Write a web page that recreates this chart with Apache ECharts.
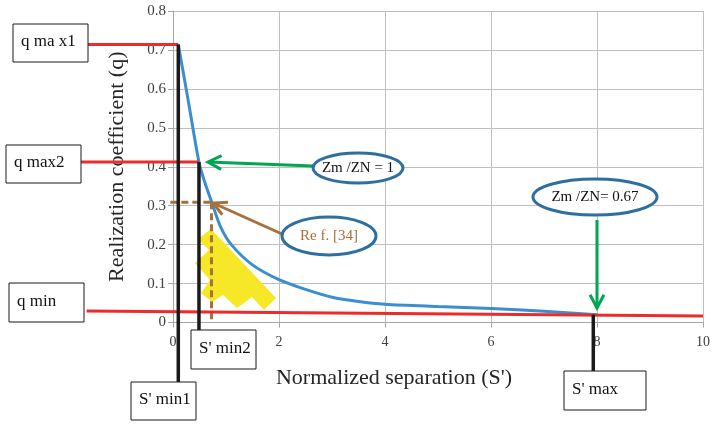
<!DOCTYPE html>
<html>
<head>
<meta charset="utf-8">
<script src="https://cdn.jsdelivr.net/npm/echarts@6/dist/echarts.min.js"></script>
<style>
  html, body { margin: 0; padding: 0; background: #fff; }
  #chart { width: 713px; height: 424px; }
</style>
</head>
<body>
<div id="chart"></div>
<script>
  // curve
  const curveS = [0.1, 0.3, 0.49, 0.6, 0.73, 0.9, 1.1, 1.5, 2, 2.5, 3, 3.5, 4, 5, 6, 7, 8];
  const curveQ = [0.714, 0.56, 0.412, 0.36, 0.309, 0.245, 0.2, 0.148, 0.11, 0.085, 0.065, 0.054, 0.047, 0.041, 0.036, 0.029, 0.02];

  // annotation values
  const qMax1 = 0.714, qMax2 = 0.412;
  const sMin1 = 0.1, sMin2 = 0.49, sMax = 7.93, qAtMax = 0.02;
  const qMinS = [-1.63, 10];
  const qMinQ = [0.0296, 0.0167];
  const sRef = 0.726, qRef = 0.309;

  const font = 'Liberation Serif, "Times New Roman", serif';
  const chart = echarts.init(document.getElementById('chart'));

  chart.setOption({
    animation: false,
    grid: { left: 173, right: 7, top: 11, bottom: 101.5 },
    xAxis: {
      type: 'value', min: 0, max: 10, interval: 2,
      name: "Normalized separation (S')",
      nameLocation: 'middle', nameGap: 45,
      nameTextStyle: { fontFamily: font, fontSize: 22, color: '#262626', padding: [0, 88, 0, 0] },
      axisLine: { show: true, lineStyle: { color: '#a6a6a6' } },
      axisTick: { show: true, length: 5, lineStyle: { color: '#a6a6a6' } },
      axisLabel: { fontFamily: font, fontSize: 14, color: '#404040', margin: 13 },
      splitLine: { lineStyle: { color: '#bfbfbf' } }
    },
    yAxis: {
      type: 'value', min: 0, max: 0.8, interval: 0.1,
      name: 'Realization coefficient (q)',
      nameLocation: 'middle', nameGap: 45,
      nameTextStyle: { fontFamily: font, fontSize: 22, color: '#262626' },
      axisLine: { show: true, lineStyle: { color: '#a6a6a6' } },
      axisTick: { show: true, length: 5, lineStyle: { color: '#a6a6a6' } },
      axisLabel: {
        fontFamily: font, fontSize: 15, color: '#404040', margin: 7,
        formatter: v => v === 0 ? '0' : v.toFixed(1)
      },
      splitLine: { lineStyle: { color: '#bfbfbf' } }
    },
    series: [{
      type: 'line',
      data: curveS.map((s, i) => [s, curveQ[i]]),
      smooth: 0.3,
      showSymbol: false,
      lineStyle: { color: '#3b8ed0', width: 3 },
      z: 3
    }]
  });

  const px = (s, q) => chart.convertToPixel({ gridIndex: 0 }, [s, q]);

  function seg(a, b, color, width, z, dash) {
    return {
      type: 'line', z: z,
      shape: { x1: a[0], y1: a[1], x2: b[0], y2: b[1] },
      style: { stroke: color, lineWidth: width, lineDash: dash || null }
    };
  }

  function arrow(from, to, color) {
    const ang = Math.atan2(from[1] - to[1], from[0] - to[0]);
    const h = 15, sp = 0.48;
    return [
      seg(from, to, color, 3, 20),
      {
        type: 'polyline', z: 20,
        shape: { points: [
          [to[0] + h * Math.cos(ang - sp), to[1] + h * Math.sin(ang - sp)],
          to,
          [to[0] + h * Math.cos(ang + sp), to[1] + h * Math.sin(ang + sp)]
        ] },
        style: { stroke: color, lineWidth: 3, fill: null }
      }
    ];
  }

  function box(x, y, w, h, text) {
    return [
      { type: 'rect', z: 30, shape: { x: x, y: y, width: w, height: h },
        style: { fill: '#fff', stroke: '#1a1a1a', lineWidth: 1 } },
      { type: 'text', z: 31, style: { text: text, x: x + 8, y: y + h / 2 - 1,
        font: '17px ' + font, fill: '#111', verticalAlign: 'middle' } }
    ];
  }

  function oval(cx, cy, rx, ry, text, color) {
    return [
      { type: 'ellipse', z: 30, shape: { cx: cx, cy: cy, rx: rx, ry: ry },
        style: { fill: '#fff', stroke: '#2f6fa0', lineWidth: 3 } },
      { type: 'text', z: 31, style: { text: text, x: cx, y: cy, align: 'center',
        verticalAlign: 'middle', font: '15px ' + font, fill: color } }
    ];
  }

  const red = '#ec2b2b', black = '#1a1a1a', brown = '#a8703a', green = '#00a651';
  const m1 = px(sMin1, qMax1), m2 = px(sMin2, qMax2), mx = px(sMax, qAtMax);
  const r0 = px(sRef, qRef);

  const yellow = [[211, 229], [198, 239], [209, 250], [195, 263], [210, 280], [201, 293],
    [212, 302], [223, 295], [237, 308], [252, 297], [264, 310], [276, 298]];

  const els = [
    { type: 'polygon', z: 1, shape: { points: yellow }, style: { fill: '#f6e827' } },
    seg(px(-0.05, qRef), r0, brown, 3, 8, [7, 4]),
    seg(r0, px(sRef, 0.006), brown, 3, 8, [7, 4]),
    seg([88, m1[1]], m1, red, 3, 10),
    seg([81, m2[1]], m2, red, 3, 10),
    seg(px(qMinS[0], qMinQ[0]), px(qMinS[1], qMinQ[1]), red, 3, 10),
    seg(m1, [m1[0], 382], black, 3.5, 12),
    seg(m2, [m2[0], 330], black, 3.5, 12),
    seg(mx, [mx[0], 371], black, 3.5, 12)
  ].concat(
    arrow([313, 166], [208, 162], green),
    arrow([597, 220], [597, 308], green),
    arrow([282, 234], [213, 203], brown),
    oval(358, 168, 45, 15, 'Zm /ZN = 1', '#111'),
    oval(329, 236, 47, 19, 'Re f. [34]', brown),
    oval(595, 197, 62, 18, 'Zm /ZN= 0.67', '#111'),
    box(13, 24, 75, 38, 'q ma x1'),
    box(6, 145, 75, 38, 'q max2'),
    box(9, 283, 75, 39, 'q min'),
    box(131, 382, 65, 38, "S' min1"),
    box(191, 330, 65, 39, "S' min2"),
    box(564, 371, 82, 39, "S' max")
  );

  chart.setOption({ graphic: { elements: els } });
</script>
</body>
</html>
